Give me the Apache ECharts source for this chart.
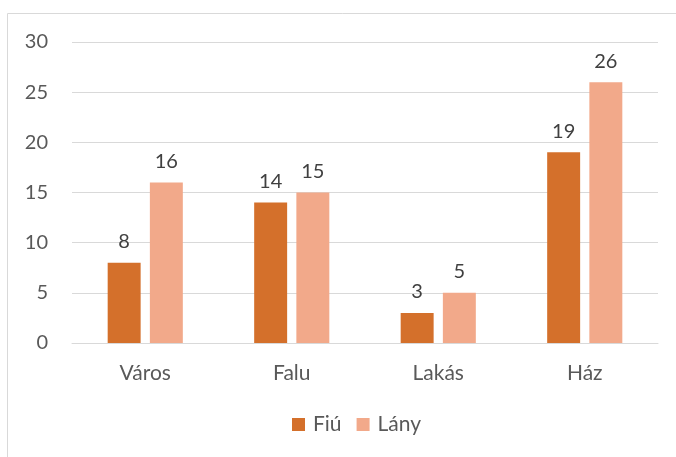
<!DOCTYPE html>
<html lang="hu" style="height: 100%">
<head>
  <meta charset="utf-8">
</head>
<body style="height: 100%; margin: 0">
  <div id="container" style="width: 676px; height: 457px"></div>
  <script type="text/javascript" src="https://cdn.jsdelivr.net/npm/echarts@6/dist/echarts.min.js"></script>
  <script type="text/javascript">
    var categories = ['Város', 'Falu', 'Lakás', 'Ház'];
    var fiu = [8, 14, 3, 19];
    var lany = [16, 15, 5, 26];

    var dom = document.getElementById('container');
    var myChart = echarts.init(dom, null, { renderer: 'canvas' });
    var font = 'Lato, "Noto Sans", sans-serif';

    var option = {
      animation: false,
      textStyle: { fontFamily: font },
      graphic: [{
        type: 'rect',
        shape: { x: 7.5, y: 13.5, width: 700, height: 500 },
        style: { fill: 'none', stroke: '#d9d9d9', lineWidth: 1 },
        silent: true
      }],
      grid: { left: 72, right: 18, top: 42, bottom: 114 },
      legend: {
        bottom: 17,
        left: 287,
        itemWidth: 13,
        itemHeight: 13,
        itemGap: 15,
        icon: 'rect',
        textStyle: { fontSize: 21, color: '#595959', fontFamily: font, padding: [0, 0, 0, 3] },
        data: ['Fiú', 'Lány']
      },
      xAxis: {
        type: 'category',
        data: categories,
        axisLine: { lineStyle: { color: '#d9d9d9' } },
        axisTick: { show: false },
        axisLabel: { fontSize: 21, color: '#595959', margin: 20, fontFamily: font }
      },
      yAxis: {
        type: 'value',
        min: 0,
        max: 30,
        interval: 5,
        axisLine: { show: false },
        axisTick: { show: false },
        splitLine: { lineStyle: { color: '#d9d9d9' } },
        axisLabel: { fontSize: 20, color: '#595959', margin: 24, fontFamily: font }
      },
      series: [
        {
          name: 'Fiú',
          type: 'bar',
          data: fiu,
          barWidth: '22.5%',
          barGap: '28%',
          itemStyle: { color: '#d4702b' },
          label: { show: true, position: 'top', distance: 11, fontSize: 20, color: '#404040', fontFamily: font }
        },
        {
          name: 'Lány',
          type: 'bar',
          data: lany,
          barWidth: '22.5%',
          itemStyle: { color: '#f2a98a' },
          label: { show: true, position: 'top', distance: 11, fontSize: 20, color: '#404040', fontFamily: font }
        }
      ]
    };
    myChart.setOption(option);
    window.addEventListener('resize', myChart.resize);
  </script>
</body>
</html>
